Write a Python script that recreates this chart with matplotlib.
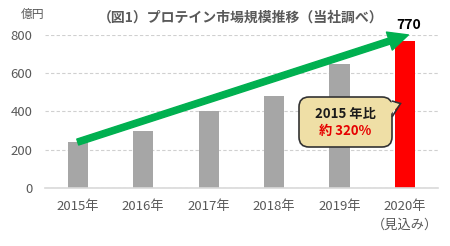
import matplotlib
matplotlib.use("Agg")
import matplotlib.pyplot as plt
from matplotlib.patches import FancyBboxPatch, Polygon
from matplotlib.transforms import IdentityTransform

plt.rcParams['font.family'] = ['Noto Sans CJK JP', 'DejaVu Sans']

# データ
years = ["2015年", "2016年", "2017年", "2018年", "2019年", "2020年\n（見込み）"]
values = [240, 300, 400, 480, 650, 770]
colors = ["#A6A6A6"] * 5 + ["#FF0000"]
yticks = [0, 200, 400, 600, 800]

W, H = 450, 246
fig = plt.figure(figsize=(4.5, 2.46), dpi=100)
ax = fig.add_axes([0.1, 0.236, 0.873, 0.622])

x = list(range(len(years)))
ax.bar(x, values, width=0.31, color=colors, zorder=2)

ax.set_xlim(-0.5, 5.5)
ax.set_ylim(0, 800)
ax.set_yticks(yticks)
ax.set_xticks(x)
ax.set_xticklabels(years, linespacing=1.5, va="top")
ax.tick_params(axis="both", length=0, labelsize=9.5, colors="#595959")
ax.tick_params(axis="x", pad=9)
ax.tick_params(axis="y", pad=9)
ax.grid(axis="y", color="#D0D0D0", linestyle=(0, (3, 2)), linewidth=0.8, zorder=0)
for s in ["top", "right", "left"]:
    ax.spines[s].set_visible(False)
ax.spines["bottom"].set_color("#D9D9D9")
ax.spines["bottom"].set_linewidth(1.2)

# 矢印
ax.annotate("", xy=(5.05, 800), xytext=(0, values[0]),
            arrowprops=dict(arrowstyle="simple,head_length=0.9,head_width=0.85,tail_width=0.28",
                            color="#00B050", mutation_scale=16, shrinkA=0, shrinkB=0),
            zorder=3, annotation_clip=False)

# 770 ラベル
ax.text(5.05, 850, str(values[-1]), ha="center", va="center",
        fontsize=10, fontweight="bold", color="#000000", clip_on=False)

# 吹き出し（ピクセル座標、左上原点）
def px(xp, yp):
    return (xp, H - yp)

fill = "#EFDFA6"
edge = "#333333"
bx0, by0 = px(299, 147)
box = FancyBboxPatch((bx0, by0), 93, 50, boxstyle="round,pad=0,rounding_size=10",
                     fc=fill, ec=edge, lw=1.2, transform=IdentityTransform(), zorder=4)
fig.patches.append(box)
tip_fill = Polygon([px(389, 102), px(400.5, 103.5), px(389, 116)], closed=True,
                   fc=fill, ec="none", transform=IdentityTransform(), zorder=5)
tip_edge = Polygon([px(392, 101), px(400.5, 103.5), px(392, 117)], closed=False,
                   fill=False, ec=edge, lw=1.2, transform=IdentityTransform(), zorder=5)
fig.patches.append(tip_fill)
fig.patches.append(tip_edge)

fig.text(345.5 / W, 1 - 114 / H, "2015 年比", ha="center", va="center", fontsize=9.5,
         fontweight="bold", color="#1A1A1A", zorder=6)
fig.text(345.5 / W, 1 - 131 / H, "約 320%", ha="center", va="center", fontsize=9.5,
         fontweight="bold", color="#E60000", zorder=6)

# タイトル・単位
fig.text(0.535, 0.93, "（図1）プロテイン市場規模推移（当社調べ）", ha="center", va="center",
         fontsize=10, fontweight="bold", color="#595959")
fig.text(0.073, 0.94, "億円", ha="center", va="center", fontsize=8.5, color="#595959")

plt.savefig("out.png", dpi=100)
